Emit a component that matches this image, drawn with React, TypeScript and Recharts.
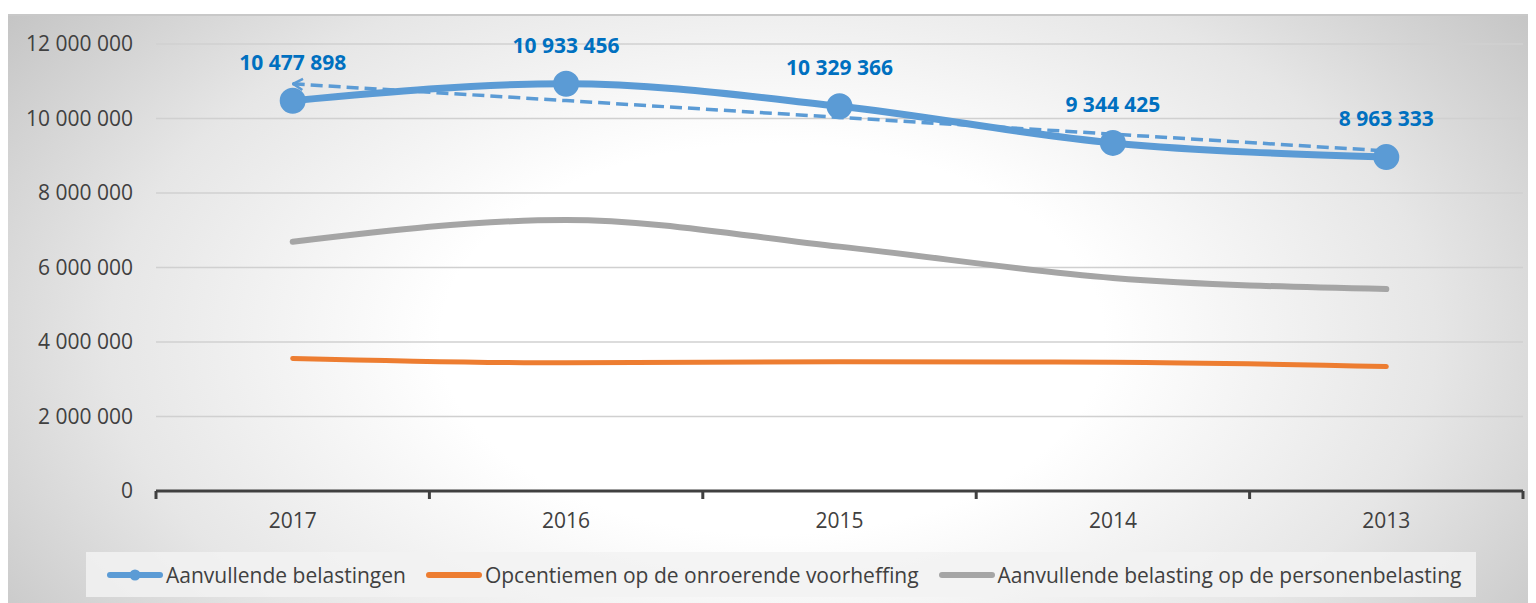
import { CartesianGrid, LabelList, Line, LineChart, XAxis, YAxis } from 'recharts';

const years = ['2017', '2016', '2015', '2014', '2013'];
const aanvullende = [10477898, 10933456, 10329366, 9344425, 8963333];
const opcentiemen = [3560000, 3440000, 3470000, 3455000, 3340000];
const personen = [6690000, 7275000, 6560000, 5720000, 5420000];
// dashed trend line
const trend = [10930000, 10480000, 10030000, 9580000, 9130000];

const yTicks = [0, 2000000, 4000000, 6000000, 8000000, 10000000, 12000000];
const xTicks = [-0.5, 0, 0.5, 1, 1.5, 2, 2.5, 3, 3.5, 4, 4.5];

const BLUE = '#5b9bd5';
const ORANGE = '#ed7d31';
const GRAY = '#a5a5a5';
const LABEL_BLUE = '#0070c0';
const TEXT = '#404040';
const FONT = '"Open Sans", sans-serif';

const data = years.map((year, i) => ({
  idx: i,
  year,
  aanvullende: aanvullende[i],
  opcentiemen: opcentiemen[i],
  personen: personen[i],
  trend: trend[i],
}));

function formatNumber(v: number): string {
  return String(Math.round(v)).replace(/\B(?=(\d{3})+(?!\d))/g, ' ');
}

function XTick(props: any) {
  const { x, y, payload } = props;
  const v = payload.value as number;
  if (Number.isInteger(v)) {
    return (
      <text x={x} y={y + 37} textAnchor="middle" fill={TEXT} fontSize={21} fontFamily={FONT}>
        {years[v]}
      </text>
    );
  }
  return <line x1={x} x2={x} y1={y} y2={y + 8} stroke={TEXT} strokeWidth={3} />;
}

const legendItems = [
  { name: 'Aanvullende belastingen', color: BLUE, dot: true },
  { name: 'Opcentiemen op de onroerende voorheffing', color: ORANGE, dot: false },
  { name: 'Aanvullende belasting op de personenbelasting', color: GRAY, dot: false },
];

export default function App() {
  return (
    <div
      style={{
        position: 'relative',
        marginTop: 6,
        width: 1528,
        height: 589,
        borderTop: '2px solid #c8c8c8',
        boxSizing: 'border-box',
        background:
          'radial-gradient(ellipse 62% 95% at 50% 55%, #ffffff 0%, #ffffff 35%, #e6e6e6 70%, #c4c4c4 100%)',
        fontFamily: FONT,
      }}
    >
      <LineChart width={1528} height={587} data={data} margin={{ top: 28, right: 13, bottom: 82, left: 0 }}>
        <defs>
          <marker id="arrowStart" markerWidth="14" markerHeight="14" refX="1" refY="7" orient="auto" markerUnits="userSpaceOnUse">
            <path d="M11,1.5 L1.5,7 L11,12.5" fill="none" stroke={BLUE} strokeWidth={2.5} />
          </marker>
        </defs>
        <CartesianGrid vertical={false} stroke="#d0d0d0" strokeWidth={1.5} />
        <XAxis
          dataKey="idx"
          type="number"
          domain={[-0.5, 4.5]}
          ticks={xTicks}
          interval={0}
          allowDecimals
          height={30}
          tickLine={false}
          tickSize={0}
          tickMargin={0}
          axisLine={{ stroke: TEXT, strokeWidth: 3 }}
          tick={<XTick />}
        />
        <YAxis
          domain={[0, 12000000]}
          ticks={yTicks}
          interval={0}
          width={148}
          tickLine={false}
          axisLine={false}
          tickSize={6}
          tickMargin={17}
          tickFormatter={formatNumber}
          tick={{ fill: TEXT, fontSize: 21, fontFamily: FONT }}
        />
        <Line
          dataKey="personen"
          type="monotone"
          stroke={GRAY}
          strokeWidth={6}
          strokeLinecap="round"
          dot={false}
          isAnimationActive={false}
        />
        <Line
          dataKey="opcentiemen"
          type="monotone"
          stroke={ORANGE}
          strokeWidth={5}
          strokeLinecap="round"
          dot={false}
          isAnimationActive={false}
        />
        <Line
          dataKey="aanvullende"
          type="monotone"
          stroke={BLUE}
          strokeWidth={7}
          dot={{ r: 12, fill: BLUE, stroke: BLUE, strokeWidth: 2 }}
          isAnimationActive={false}
        >
          <LabelList
            dataKey="aanvullende"
            position="top"
            offset={31}
            formatter={(v: any) => formatNumber(Number(v))}
            style={{ fill: LABEL_BLUE, fontSize: 21, fontWeight: 700, fontFamily: FONT }}
          />
        </Line>
        <Line
          dataKey="trend"
          type="linear"
          stroke={BLUE}
          strokeWidth={3.5}
          strokeDasharray="12 6"
          markerStart="url(#arrowStart)"
          dot={false}
          isAnimationActive={false}
        />
      </LineChart>
      <div
        style={{
          position: 'absolute',
          left: 78,
          top: 536,
          width: 1390,
          height: 45,
          background: 'rgba(242,242,242,0.85)',
          display: 'flex',
          alignItems: 'center',
          paddingLeft: 21,
          boxSizing: 'border-box',
          fontSize: 21,
          color: TEXT,
          whiteSpace: 'nowrap',
        }}
      >
        {legendItems.map((item, i) => (
          <div key={item.name} style={{ display: 'flex', alignItems: 'center', marginRight: i < 2 ? 20 : 0 }}>
            <svg width={56} height={14} style={{ marginRight: 3 }}>
              <line x1={3} x2={53} y1={7} y2={7} stroke={item.color} strokeWidth={6} strokeLinecap="round" />
              {item.dot && <circle cx={28} cy={7} r={5.5} fill={item.color} />}
            </svg>
            <span>{item.name}</span>
          </div>
        ))}
      </div>
    </div>
  );
}
